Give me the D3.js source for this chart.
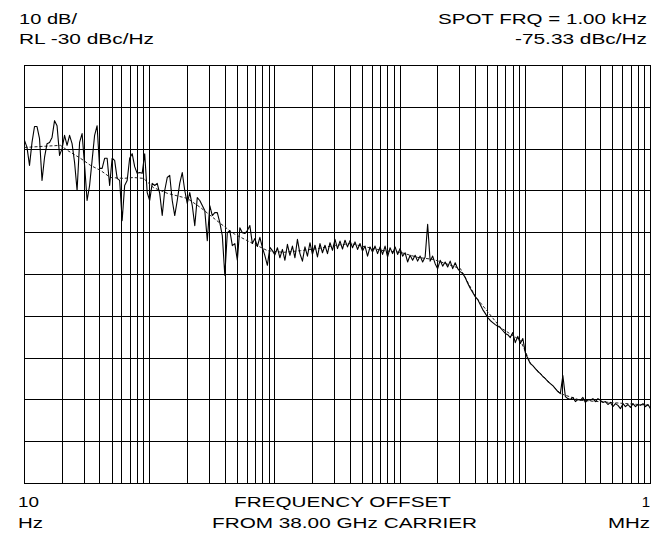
<!DOCTYPE html>
<html><head><meta charset="utf-8">
<script src="https://cdn.jsdelivr.net/npm/d3@7"></script>
<style>
body{margin:0;background:#fff}
svg{display:block}
text{font-family:"Liberation Sans",Arial,sans-serif;font-size:15px;fill:#000}
</style>
</head><body>
<svg id="c" width="662" height="539"></svg>
<script>
// ---- data ----
const startFreq = 10;          // Hz
const stopFreq = 1e6;          // Hz
const pointsPerDecade = 50;    // sweep points per decade
const refLevel = -30;          // dBc/Hz (top)
const dbPerDiv = 10;
const divisions = 10;

// measured phase noise trace (dBc/Hz), one value per sweep point
const traceDb = [
-47.9,-49.6,-53.9,-48.4,-44.6,-44.6,-47.5,-57.5,-52.0,-48.7,
-48.4,-47.2,-43.2,-44.4,-51.5,-49.9,-46.7,-49.1,-46.7,-48.7,
-53.2,-59.9,-48.4,-46.3,-53.9,-62.3,-58.7,-52.7,-46.7,-44.4,
-54.6,-54.6,-52.2,-52.2,-58.7,-52.2,-52.7,-57.0,-57.5,-67.1,
-58.7,-57.5,-52.2,-51.1,-54.2,-55.8,-55.6,-55.8,-51.1,-60.4,
-62.3,-58.2,-58.7,-58.2,-60.6,-65.9,-59.9,-56.8,-56.3,-62.3,
-65.9,-62.3,-58.2,-55.6,-59.9,-63.0,-60.4,-63.5,-68.3,-61.6,
-62.3,-63.5,-64.7,-71.9,-63.5,-65.9,-65.2,-65.2,-67.6,-70.7,
-80.2,-70.0,-69.5,-73.1,-72.6,-76.6,-68.8,-70.0,-70.2,-69.5,
-68.3,-72.6,-71.4,-73.3,-71.1,-73.5,-75.5,-77.8,-73.5,-74.3,
-75.3,-73.6,-76.0,-74.0,-76.6,-72.8,-75.4,-73.2,-76.0,-71.6,
-75.0,-76.8,-73.4,-75.6,-72.4,-75.2,-73.0,-75.8,-72.6,-74.8,
-73.0,-75.0,-72.4,-74.2,-71.6,-73.8,-72.0,-73.9,-71.8,-73.4,
-71.9,-73.6,-72.2,-74.0,-72.6,-74.4,-73.2,-75.6,-73.4,-74.6,
-73.2,-75.0,-73.4,-75.2,-73.2,-75.8,-73.6,-75.0,-73.4,-75.2,
-73.8,-75.6,-74.8,-77.0,-75.4,-76.6,-75.4,-76.8,-75.6,-77.0,
-75.8,-68.0,-76.8,-75.6,-77.4,-78.6,-76.6,-78.0,-77.0,-78.2,
-76.8,-78.6,-77.2,-78.6,-79.3,-79.8,-80.7,-82.1,-83.3,-84.3,
-85.3,-86.0,-87.2,-88.4,-89.3,-90.3,-91.0,-91.5,-92.0,-92.4,
-92.7,-93.4,-94.1,-94.4,-95.1,-93.9,-96.3,-94.8,-96.5,-95.3,
-98.7,-100.1,-101.3,-101.8,-102.5,-103.2,-103.7,-104.4,-104.9,-105.6,
-106.1,-106.6,-107.3,-108.0,-108.5,-104.2,-109.2,-109.7,-109.9,-109.4,
-110.4,-109.9,-110.1,-109.4,-110.6,-109.9,-110.1,-109.7,-110.4,-109.7,
-110.1,-110.6,-110.4,-111.1,-110.6,-111.6,-110.9,-111.3,-112.1,-110.9,
-111.6,-111.1,-111.8,-110.9,-111.6,-111.1,-111.3,-110.9,-111.6,-111.1,
-112.1
];

// smoothed (averaged) trace
const avgFreq = [10,19.4,22,28,33.7,40.5,48.6,61.8,74.2,89.2,107,139,200,255,367,467,638,873,1172,1600,2188,2938,4018,5495,7362,10070,13770,18490,30340,40000,63400,91600,110200,191000,276000,1000000];
const avgDb   = [-49.6,-49.1,-50.3,-52.2,-53.9,-55.1,-56.8,-57.0,-56.8,-57.0,-59.2,-60.6,-61.8,-64.0,-67.8,-70.2,-72.3,-74.3,-74.7,-74.3,-73.8,-73.1,-72.6,-73.5,-74.3,-74.7,-75.9,-76.4,-78.6,-85.3,-92.7,-95.8,-101.3,-108.5,-110.1,-111.3];

const headerLeft  = ["10 dB/", "RL -30 dBc/Hz"];
const headerRight = ["SPOT FRQ = 1.00 kHz", "-75.33 dBc/Hz"];
const startLabel  = ["10", "Hz"];
const stopLabel   = ["1", "MHz"];
const centerLabel = ["FREQUENCY OFFSET", "FROM 38.00 GHz CARRIER"];

// ---- drawing ----
const svg = d3.select("#c");
const L = 24.5, R = 650.5, T = 65.5, B = 483.5;
const x = d3.scaleLog().domain([startFreq, stopFreq]).range([L, R]);
const y = d3.scaleLinear().domain([refLevel - dbPerDiv*divisions, refLevel]).range([B, T]);

// grid lines through axes
const gridFreqs = [];
for (let e = 1; e < 6; e++) for (let k = 1; k <= 9; k++) gridFreqs.push(k * 10 ** e);
gridFreqs.push(stopFreq);
const gridDb = d3.range(divisions + 1).map(i => refLevel - i * dbPerDiv);

const gx = svg.append("g").attr("transform", `translate(0,${B})`)
  .call(d3.axisBottom(x).tickValues(gridFreqs).tickSize(-(B - T)).tickFormat(""));
const gy = svg.append("g").attr("transform", `translate(${L},0)`)
  .call(d3.axisLeft(y).tickValues(gridDb).tickSize(-(R - L)).tickFormat(""));
[gx, gy].forEach(g => {
  g.select(".domain").remove();
  g.selectAll("line").attr("stroke", "#000").attr("stroke-width", 1).attr("shape-rendering", "crispEdges");
});
gx.selectAll(".tick").attr("transform", d => `translate(${Math.floor(x(d)) + 0.5},0)`);
gy.selectAll(".tick").attr("transform", d => `translate(0,${Math.floor(y(d)) + 0.5})`);

svg.append("rect").attr("x", L).attr("y", T).attr("width", R - L).attr("height", B - T)
  .attr("fill", "none").attr("stroke", "#000").attr("stroke-width", 1);

// traces
const sweep = traceDb.map((v, i) => ({ f: startFreq * 10 ** (i / pointsPerDecade), v }));
const line = d3.line().x(d => x(d.f)).y(d => y(d.v));

svg.append("path").datum(avgFreq.map((f, i) => ({ f, v: avgDb[i] })))
  .attr("d", line).attr("fill", "none").attr("stroke", "#222").attr("stroke-width", 1)
  .attr("stroke-dasharray", "3,2");
svg.append("path").datum(sweep)
  .attr("d", line).attr("fill", "none").attr("stroke", "#000").attr("stroke-width", 1.1)
  .attr("stroke-linejoin", "round");

// text
function label(t, xx, yy, w, anchor) {
  const el = svg.append("text").attr("x", xx).attr("y", yy).text(t);
  if (w) el.attr("textLength", w).attr("lengthAdjust", "spacingAndGlyphs");
  if (anchor) el.attr("text-anchor", anchor);
}
label(headerLeft[0], 19, 24, 58);
label(headerLeft[1], 19, 44, 135);
label(headerRight[0], 438, 24, 209);
label(headerRight[1], 515, 44, 132);
label(startLabel[0], 18, 507, 21);
label(startLabel[1], 18, 528, 25);
label(stopLabel[0], 650, 507, null, "end");
label(stopLabel[1], 608, 528, 42);
label(centerLabel[0], 234, 507, 217);
label(centerLabel[1], 212, 528, 265);
</script>
</body></html>
